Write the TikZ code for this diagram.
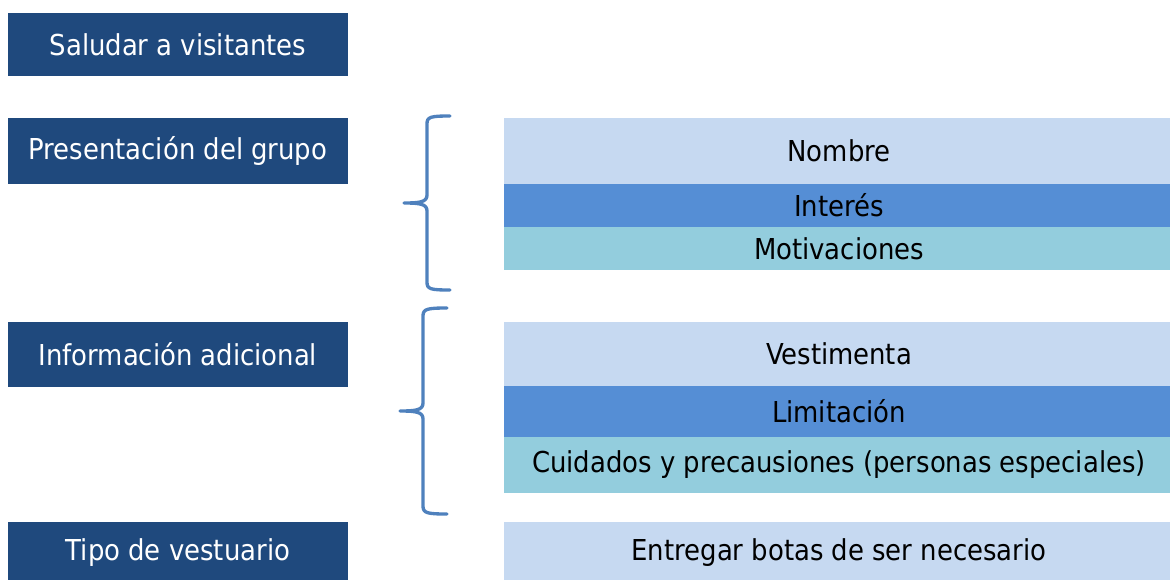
\documentclass[tikz,border=0pt]{standalone}
\usepackage{fontspec}
\setmainfont{DejaVu Sans Condensed}
\definecolor{darkbox}{HTML}{1F497D}
\definecolor{lightbox}{HTML}{C6D9F1}
\definecolor{midbox}{HTML}{558ED5}
\definecolor{tealbox}{HTML}{93CDDD}
\definecolor{bracecol}{HTML}{4F81BD}
\begin{document}
\begin{tikzpicture}[x=0.75pt,y=-0.75pt,
  every node/.style={inner sep=0pt,outer sep=0pt,font=\fontsize{21.6}{25}\selectfont},
  leftbox/.style={fill=darkbox,text=white,minimum width=255pt},
  rightbox/.style={text=black,minimum width=502.5pt},
  bracestyle/.style={draw=bracecol,line width=2.5pt,line cap=round,line join=round}]
\useasboundingbox (0,0) rectangle (1170,579);
% left column
\node[leftbox,minimum height=47.25pt] (sal) at (178,44.5) {Saludar a visitantes};
\node[leftbox,minimum height=49.5pt] (pres) at (178,151) {Presentación del grupo};
\node[leftbox,minimum height=48.75pt] (info) at (178,354.5) {Información adicional};
\node[leftbox,minimum height=46.5pt] (tipo) at (178,553) {Tipo de vestuario};
% right column
\node[rightbox,fill=lightbox,minimum height=49.5pt] (nom) at (839,151) {Nombre};
\node[rightbox,fill=midbox,minimum height=32.25pt] (int) at (839,205.5) {Interés};
\node[rightbox,fill=tealbox,minimum height=32.25pt] (mot) at (839,248.5) {Motivaciones};
\node[rightbox,fill=lightbox,minimum height=48pt] (ves) at (839,354) {Vestimenta};
\node[rightbox,fill=midbox,minimum height=38.25pt] (lim) at (839,411.5) {Limitación};
\node[rightbox,fill=tealbox,minimum height=42pt] (cui) at (839,465) {Cuidados y precausiones (personas especiales)};
\node[rightbox,fill=lightbox,minimum height=46.5pt] (ent) at (839,553) {Entregar botas de ser necesario};
% braces
\draw[bracestyle] (450,116) .. controls (430,116) and (427,117) .. (427,124)
  -- (427,195) .. controls (427,202) and (420,203) .. (404,203)
  .. controls (420,203) and (427,204) .. (427,211)
  -- (427,282) .. controls (427,289) and (430,290) .. (450,290);
\draw[bracestyle] (447,308) .. controls (427,308) and (423,309) .. (423,316)
  -- (423,403) .. controls (423,410) and (416,411) .. (400,411)
  .. controls (416,411) and (423,412) .. (423,419)
  -- (423,506) .. controls (423,513) and (427,514) .. (447,514);
\end{tikzpicture}
\end{document}
